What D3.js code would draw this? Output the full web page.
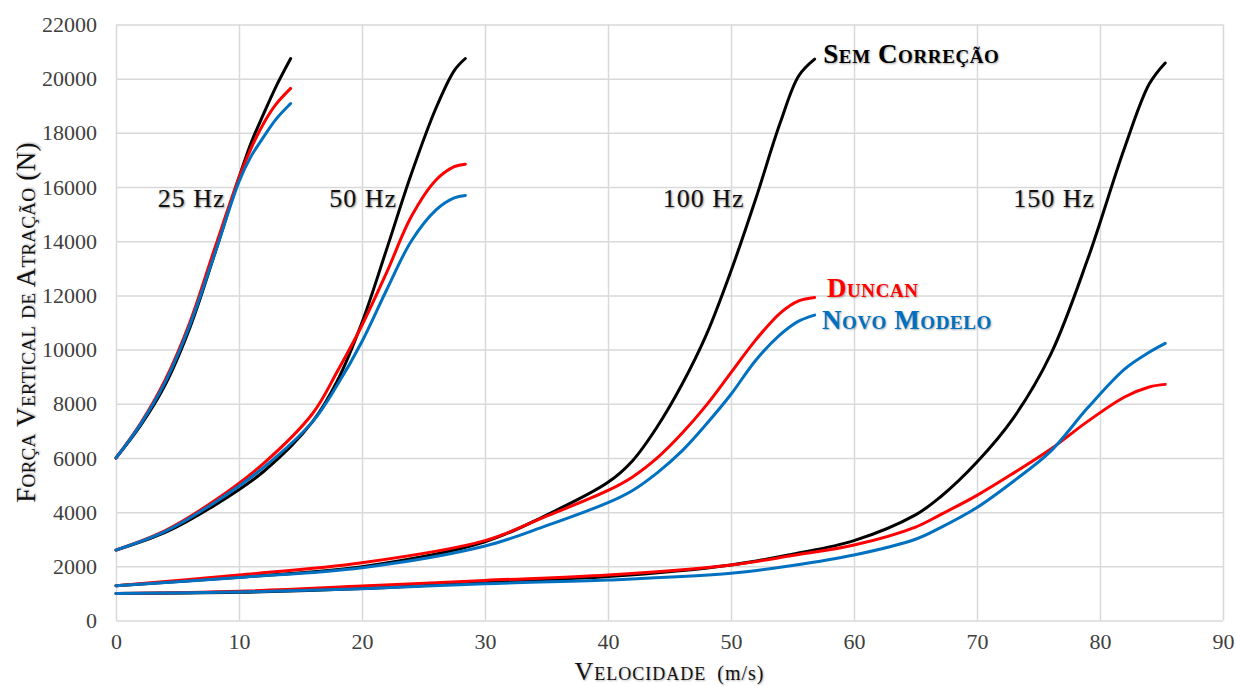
<!DOCTYPE html>
<html>
<head>
<meta charset="utf-8">
<script src="https://cdn.jsdelivr.net/npm/d3@7"></script>
<style>
	body { margin: 0; background: #fff; }
	svg { display: block; font-family: "Liberation Serif", serif; }
	.grid line { stroke: #d9d9d9; stroke-width: 1.5; }
	.grid path { stroke: none; }
	.ticks path, .ticks line { stroke: none; }
	.ticks text { fill: #404040; font-size: 22px; font-family: "Liberation Serif", serif; }
	.title { font-variant: small-caps; font-size: 27px; fill: #111; letter-spacing: 0.3px; text-shadow: 1px 1px 2px rgba(0,0,0,0.3); }
	.freq { font-size: 26px; letter-spacing: 1px; fill: #111; text-shadow: 1px 1px 2px rgba(0,0,0,0.45); }
	.serie { font-variant: small-caps; font-size: 27px; letter-spacing: 0.6px; font-weight: bold; text-shadow: 1px 1px 2px rgba(0,0,0,0.35); }
	.curve { fill: none; stroke-width: 3; stroke-linecap: round; }
</style>
</head>
<body>
<svg id="chart" width="1236" height="686"></svg>
<script>
/*********************************************************\
* Força vertical de atração x velocidade                  *
\*********************************************************/

var seriesNames = ['Sem Correção', 'Duncan', 'Novo Modelo'];
var seriesColors = ['#000000', '#ff0000', '#0070c0'];

var xTicks = [0, 10, 20, 30, 40, 50, 60, 70, 80, 90];
var yTicks = [0, 2000, 4000, 6000, 8000, 10000, 12000, 14000, 16000, 18000, 20000, 22000];

// 25 Hz
var v25 = [0, 2, 4, 6, 8, 10, 11, 12, 13, 14.2];
var sem25 = [6000, 7200, 8700, 10800, 13500, 16350, 17650, 18700, 19700, 20745];
var dun25 = [6000, 7280, 8880, 11000, 13700, 16350, 17450, 18350, 19050, 19640];
var nov25 = [6000, 7250, 8800, 10900, 13500, 16200, 17150, 17850, 18500, 19085];

// 50 Hz
var v50 = [0, 4, 8, 12, 16, 18, 20, 22, 24, 26, 27.5, 28.4];
var sem50 = [2600, 3250, 4250, 5500, 7350, 8850, 11000, 13700, 16470, 18900, 20300, 20745];
var dun50 = [2600, 3320, 4420, 5800, 7650, 9200, 10900, 12840, 14900, 16250, 16750, 16845];
var nov50 = [2600, 3290, 4350, 5650, 7350, 8700, 10300, 12200, 14000, 15150, 15600, 15690];

// 100 Hz
var v100 = [0, 10, 20, 30, 35, 40, 42, 44, 46, 48, 50, 52, 54, 55.5, 56.8];
var sem100 = [1285, 1600, 1985, 2908, 3893, 5100, 5900, 7150, 8700, 10550, 12900, 15550, 18370, 20100, 20720];
var dun100 = [1285, 1680, 2133, 2950, 3850, 4800, 5300, 6000, 6900, 7950, 9150, 10350, 11350, 11800, 11926];
var nov100 = [1285, 1590, 1950, 2749, 3500, 4350, 4800, 5450, 6250, 7250, 8350, 9600, 10550, 11050, 11273];

// 150 Hz
var v150 = [0, 10, 20, 30, 40, 50, 55, 60, 65, 67, 70, 73, 76, 79, 82, 84, 85.3];
var sem150 = [1000, 1040, 1180, 1420, 1620, 2050, 2450, 2950, 3900, 4550, 5850, 7500, 9830, 13340, 17450, 19800, 20580];
var dun150 = [1000, 1080, 1270, 1480, 1680, 2048, 2400, 2786, 3450, 3900, 4620, 5450, 6330, 7350, 8250, 8620, 8716];
var nov150 = [1000, 1050, 1170, 1360, 1494, 1740, 2030, 2417, 3000, 3420, 4170, 5150, 6250, 7850, 9280, 9900, 10228];

var groups = [
	{ label: '25 Hz', v: v25, f: [sem25, dun25, nov25], lx: 8.9 },
	{ label: '50 Hz', v: v50, f: [sem50, dun50, nov50], lx: 22.85 },
	{ label: '100 Hz', v: v100, f: [sem100, dun100, nov100], lx: 51.1 },
	{ label: '150 Hz', v: v150, f: [sem150, dun150, nov150], lx: 79.6 }
];

//- - - - - - - - - - - - - - - - - - - - - - - - - - - - - - - - - - - - - - -

var svg = d3.select('#chart'),
	x = d3.scaleLinear().domain([0, 90]).range([116, 1223]),
	y = d3.scaleLinear().domain([0, 22000]).range([620.5, 24.5]);

// grid
svg.append('g')
	.attr('class', 'grid')
	.attr('transform', 'translate(0,' + y(0) + ')')
	.call(d3.axisBottom(x).tickValues(xTicks).tickSize(-(y(0) - y(22000))).tickFormat(''))
;
svg.append('g')
	.attr('class', 'grid')
	.attr('transform', 'translate(' + x(0) + ',0)')
	.call(d3.axisLeft(y).tickValues(yTicks).tickSize(-(x(90) - x(0))).tickFormat(''))
;

// tick labels
svg.append('g')
	.attr('class', 'ticks')
	.attr('transform', 'translate(0,' + y(0) + ')')
	.call(d3.axisBottom(x).tickValues(xTicks).tickSize(0).tickPadding(13))
;
svg.append('g')
	.attr('class', 'ticks')
	.attr('transform', 'translate(' + x(0) + ',0)')
	.call(d3.axisLeft(y).tickValues(yTicks).tickSize(0).tickPadding(19).tickFormat(d3.format('d')))
;

// curves
var line = d3.line()
	.x(function (d) { return x(d[0]); })
	.y(function (d) { return y(d[1]); })
	.curve(d3.curveCatmullRom.alpha(0.5));

var curves = svg.append('g').attr('class', 'curves');

groups.forEach(function (g) {
	g.f.forEach(function (serie, i) {
		curves.append('path')
			.attr('class', 'curve')
			.attr('stroke', seriesColors[i])
			.attr('d', line(g.v.map(function (v, k) { return [v, serie[k]]; })))
		;
	});
});

// frequency labels
svg.append('g')
	.selectAll('text')
	.data(groups)
	.enter()
	.append('text')
	.attr('class', 'freq')
	.attr('text-anchor', 'end')
	.attr('x', function (d) { return x(d.lx); })
	.attr('y', y(15260))
	.text(function (d) { return d.label; })
;

// series labels
var serieLabelPos = [[57.5, 20570], [57.8, 11940], [57.4, 10760]];
svg.append('g')
	.selectAll('text')
	.data(seriesNames)
	.enter()
	.append('text')
	.attr('class', 'serie')
	.attr('fill', function (d, i) { return seriesColors[i]; })
	.attr('x', function (d, i) { return x(serieLabelPos[i][0]); })
	.attr('y', function (d, i) { return y(serieLabelPos[i][1]); })
	.text(function (d) { return d; })
;

// axis titles
svg.append('text')
	.attr('class', 'title')
	.attr('text-anchor', 'middle')
	.attr('x', (x(0) + x(90)) / 2)
	.attr('y', 680)
	.style('font-size', '26px')
	.style('letter-spacing', '1px')
	.text('Velocidade')
	.append('tspan')
	.style('font-variant', 'normal')
	.style('font-size', '20px')
	.text('\u2002(m/s)')
;
svg.append('text')
	.attr('class', 'title')
	.attr('text-anchor', 'middle')
	.attr('transform', 'translate(35,' + (y(0) + y(22000)) / 2 + ') rotate(-90)')
	.text('Força Vertical de Atração (N)')
;
</script>
</body>
</html>
